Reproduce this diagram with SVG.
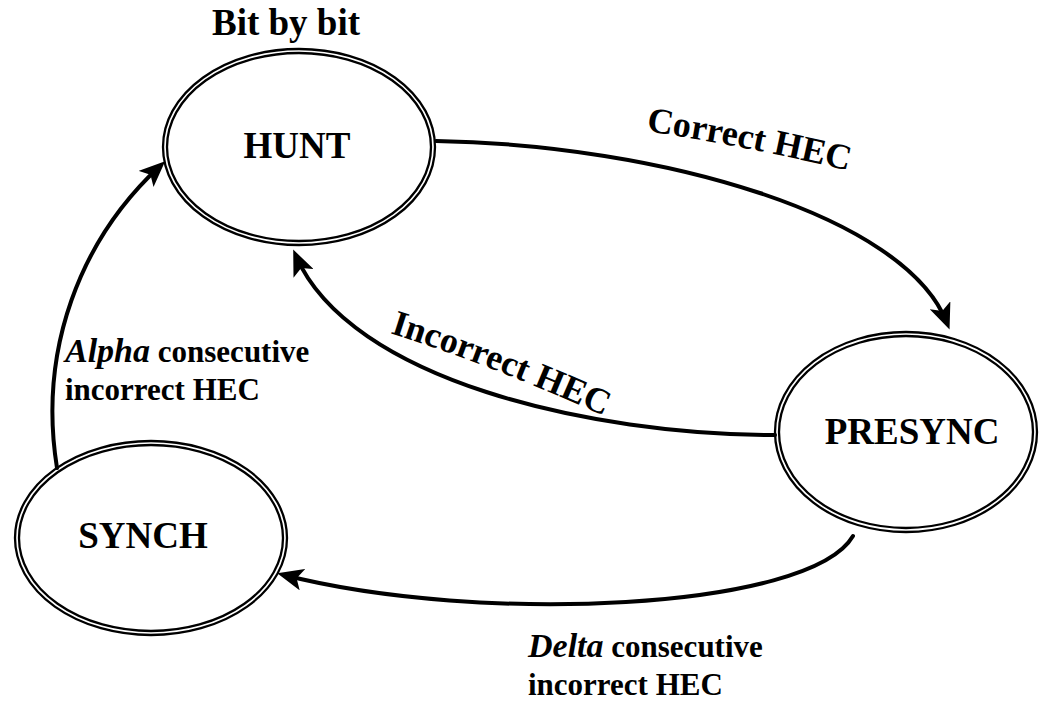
<svg xmlns="http://www.w3.org/2000/svg" width="1039" height="709" viewBox="0 0 1039 709">
  <style>
    .ring { fill: none; stroke: #000; stroke-width: 2.3; }
    .node-label { font-family: "Liberation Serif", "Times New Roman", serif; font-weight: bold; font-size: 37px; fill: #000; text-anchor: middle; }
    .edge { fill: none; stroke: #000; stroke-width: 4; stroke-linecap: round; }
    .edge-label { font-family: "Liberation Serif", "Times New Roman", serif; font-weight: bold; font-size: 31px; fill: #000; }
    .big-label { font-family: "Liberation Serif", "Times New Roman", serif; font-weight: bold; font-size: 36px; fill: #000; }
    .greek { font-style: italic; font-size: 34px; }
  </style>
  <defs>
    <marker id="arrow" viewBox="0 0 26 22" refX="19" refY="11" markerWidth="26" markerHeight="22" markerUnits="userSpaceOnUse" orient="auto">
      <path d="M0,0 L26,11 L0,22 L6,11 z" fill="#000"/>
    </marker>
    <path id="correct-baseline" d="M646,131 Q 752,147 862,174"/>
    <path id="incorrect-baseline" d="M390,333 Q 500,368 624,425"/>
  </defs>

  <rect x="0" y="0" width="1039" height="709" fill="#fff"/>

  <!-- state transitions -->
  <g id="connectors">
    <path class="edge" d="M436,141 C 660,145 905,215 947,323" marker-end="url(#arrow)"/>
    <path class="edge" d="M775,435 C 590,435 350,380 296,256" marker-end="url(#arrow)"/>
    <path class="edge" d="M57,468 C 38,350 80,240 160,166" marker-end="url(#arrow)"/>
    <path class="edge" d="M853,536 C 810,610 480,625 284,575" marker-end="url(#arrow)"/>
  </g>

  <!-- states -->
  <g id="hunt">
    <ellipse class="ring" cx="299" cy="147" rx="136" ry="98"/>
    <ellipse class="ring" cx="299" cy="147" rx="132" ry="94"/>
    <text class="node-label" x="297" y="158">HUNT</text>
    <text class="node-label" x="286" y="35">Bit by bit</text>
  </g>

  <g id="presync">
    <ellipse class="ring" cx="906" cy="432" rx="131" ry="100"/>
    <ellipse class="ring" cx="906" cy="432" rx="127" ry="96"/>
    <text class="node-label" x="912" y="444">PRESYNC</text>
  </g>

  <g id="synch">
    <ellipse class="ring" cx="151" cy="538" rx="136" ry="97"/>
    <ellipse class="ring" cx="151" cy="538" rx="132" ry="93"/>
    <text class="node-label" x="143" y="548">SYNCH</text>
  </g>

  <!-- transition labels -->
  <g id="labels">
    <text class="big-label"><textPath href="#correct-baseline">Correct HEC</textPath></text>
    <text class="big-label"><textPath href="#incorrect-baseline">Incorrect HEC</textPath></text>
    <text class="edge-label" x="65" y="362"><tspan class="greek">Alpha</tspan> consecutive</text>
    <text class="edge-label" x="65" y="400">incorrect HEC</text>
    <text class="edge-label" x="528" y="657"><tspan class="greek">Delta</tspan> consecutive</text>
    <text class="edge-label" x="528" y="695">incorrect HEC</text>
  </g>
</svg>
